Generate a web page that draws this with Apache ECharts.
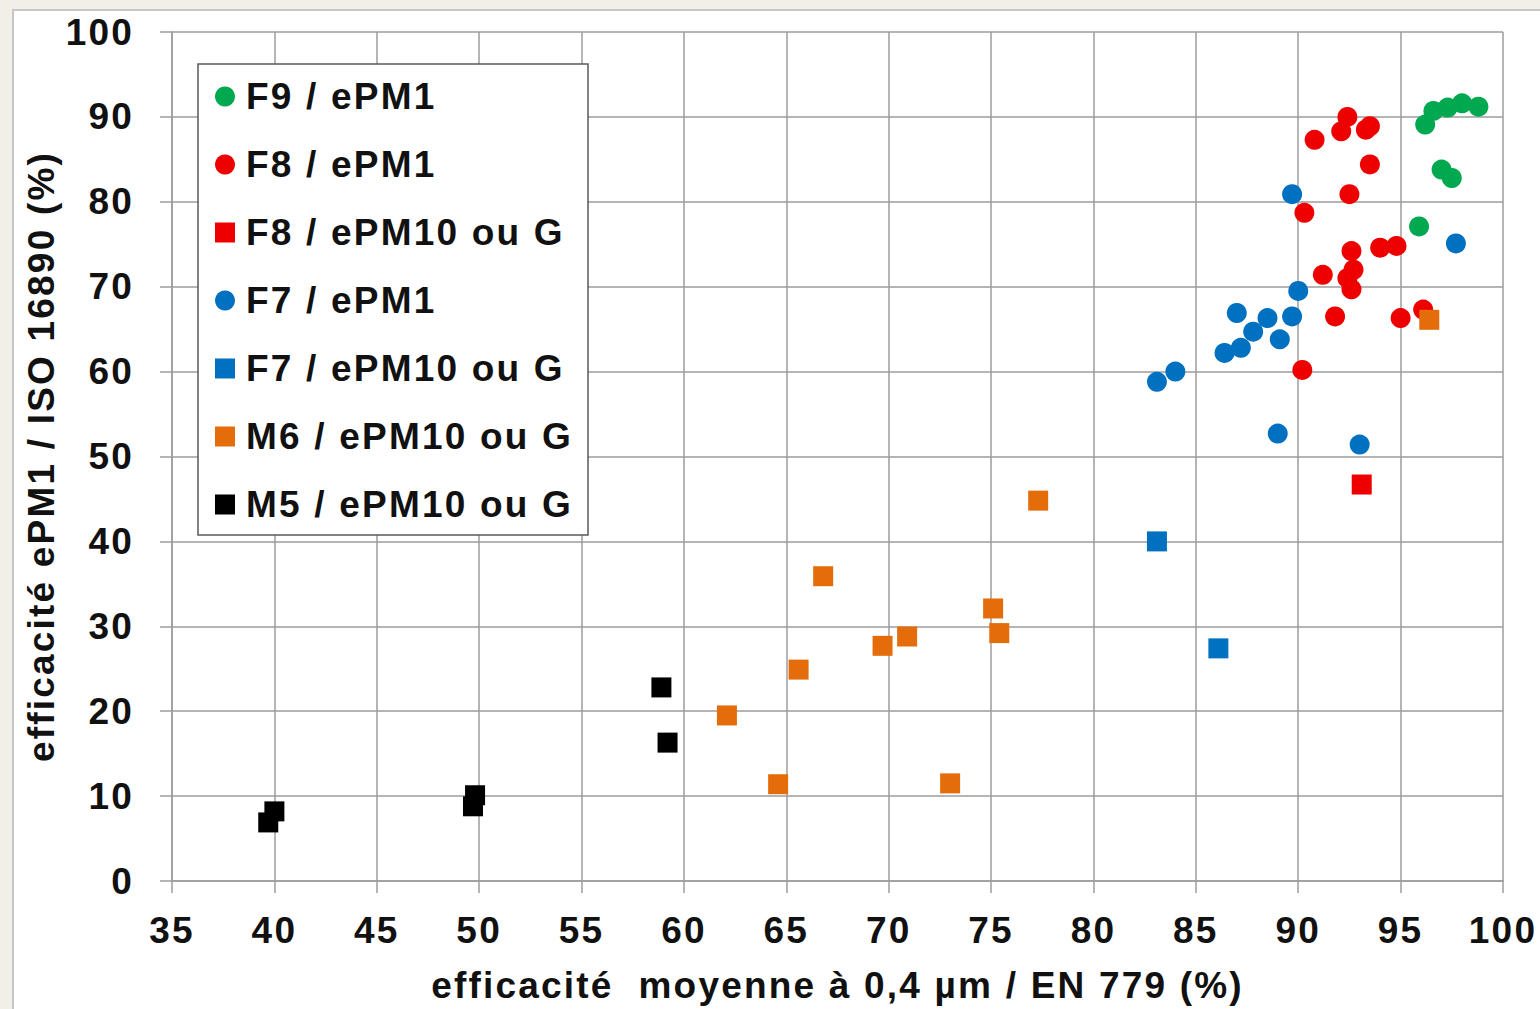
<!DOCTYPE html>
<html><head><meta charset="utf-8">
<script src="https://cdn.jsdelivr.net/npm/echarts@6/dist/echarts.min.js"></script>
<style>
html,body{margin:0;padding:0;background:#f2efe7;overflow:hidden;}
#panel{position:absolute;left:12px;top:9px;width:1528px;height:1000px;background:#fff;border-left:2px solid #c6c6c6;border-top:2px solid #c6c6c6;box-sizing:border-box;}
#chart{position:absolute;left:0;top:0;width:1540px;height:1009px;}
#chart text{letter-spacing:2.2px;}
</style></head><body>
<div id="panel"></div><div id="chart"></div>
<script>
// ---- data (x = efficacité moyenne à 0,4 µm / EN 779, y = efficacité ePM1 / ISO 16890) ----
const seriesNames = ['F9 / ePM1','F8 / ePM1','F8 / ePM10 ou G','F7 / ePM1','F7 / ePM10 ou G','M6 / ePM10 ou G','M5 / ePM10 ou G'];
const f9_ePM1 = [[96.2,89.1],[96.6,90.7],[97.3,91.1],[98.0,91.6],[98.8,91.2],[97.0,83.8],[97.5,82.8],[95.9,77.1]];
const f8_ePM1 = [[90.8,87.3],[92.1,88.3],[92.4,90.0],[93.3,88.5],[93.5,88.9],[93.5,84.4],[92.5,80.9],[90.3,78.7],
  [92.6,74.2],[94.0,74.6],[94.8,74.8],[91.2,71.4],[92.7,72.0],[92.4,71.0],[92.6,69.7],[91.8,66.5],[95.0,66.3],[96.1,67.3],[90.2,60.2]];
const f8_ePM10 = [[93.1,46.7]];
const f7_ePM1 = [[89.7,80.9],[97.7,75.1],[90.0,69.5],[87.0,66.9],[88.5,66.3],[89.7,66.5],[87.8,64.7],[89.1,63.8],
  [87.2,62.8],[86.4,62.2],[84.0,60.0],[83.1,58.8],[89.0,52.7],[93.0,51.4]];
const f7_ePM10 = [[83.1,40.0],[86.1,27.4]];
const m6_ePM10 = [[77.3,44.8],[66.8,35.9],[75.1,32.1],[75.4,29.2],[70.9,28.8],[69.7,27.7],[65.6,24.9],[62.1,19.5],[64.6,11.4],[73.0,11.5],[96.4,66.1]];
const m5_ePM10 = [[40.0,8.2],[39.7,6.9],[49.8,10.1],[49.7,8.8],[58.9,22.8],[59.2,16.3]];
const xTitle = 'efficacité  moyenne à 0,4 µm / EN 779 (%)';
const yTitle = 'efficacité ePM1 / ISO 16890 (%)';

const seriesData = [f9_ePM1, f8_ePM1, f8_ePM10, f7_ePM1, f7_ePM10, m6_ePM10, m5_ePM10];
const symbols = ['circle','circle','rect','circle','rect','rect','rect'];
const colors = ['#00a84f','#ee0000','#ee0000','#0070c0','#0070c0','#e46c0a','#000000'];
const SQUARE_ICON = 'path://M0 0H20V20H0Z';

const FONT = '"Liberation Sans", Arial, sans-serif';
const gridColor = '#9c9c9c';

const chart = echarts.init(document.getElementById('chart'), null, {renderer:'svg'});
chart.setOption({
  animation:false,
  backgroundColor:'transparent',
  grid:{left:172,right:37,top:32,bottom:128,containLabel:false},
  xAxis:{
    type:'value',min:35,max:100,interval:5,
    name:xTitle,nameLocation:'middle',nameGap:86,
    nameTextStyle:{fontFamily:FONT,fontWeight:'bold',fontSize:37,color:'#111'},
    axisLine:{show:true,lineStyle:{color:gridColor,width:1.5}},
    axisTick:{show:true,length:12,lineStyle:{color:gridColor,width:1.5}},
    axisLabel:{margin:31,fontFamily:FONT,fontWeight:'bold',fontSize:37,color:'#111'},
    splitLine:{show:true,lineStyle:{color:gridColor,width:1.5}}
  },
  yAxis:{
    type:'value',min:0,max:100,interval:10,
    name:yTitle,nameLocation:'middle',nameGap:112,nameRotate:90,
    nameTextStyle:{fontFamily:FONT,fontWeight:'bold',fontSize:37,color:'#111'},
    axisLine:{show:true,lineStyle:{color:gridColor,width:1.5}},
    axisTick:{show:true,length:12,lineStyle:{color:gridColor,width:1.5}},
    axisLabel:{margin:38,fontFamily:FONT,fontWeight:'bold',fontSize:37,color:'#111'},
    splitLine:{show:true,lineStyle:{color:gridColor,width:1.5}}
  },
  legend:{
    orient:'vertical',left:198,top:64,
    padding:[14,48,12,17],
    itemWidth:32,itemHeight:20,itemGap:31,
    symbolKeepAspect:true,
    backgroundColor:'#ffffff',borderColor:'#5a5a5a',borderWidth:1.5,
    textStyle:{fontFamily:FONT,fontWeight:'bold',fontSize:37,color:'#111'},
    data:seriesNames.map((n,i)=>({name:n,icon:symbols[i]==='rect'?SQUARE_ICON:'circle'}))
  },
  series:seriesNames.map((n,i)=>({
    name:n,type:'scatter',symbol:symbols[i],symbolSize:20,
    itemStyle:{color:colors[i],opacity:1},
    data:seriesData[i]
  }))
});
</script>
</body></html>
